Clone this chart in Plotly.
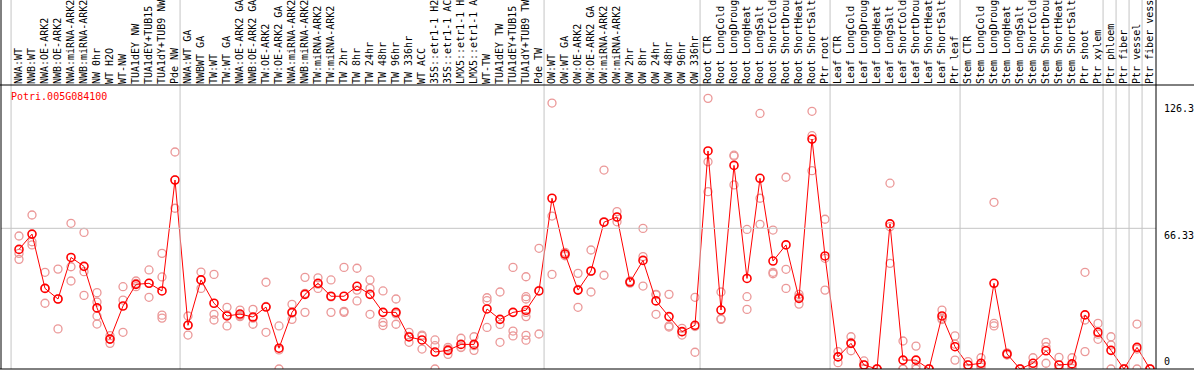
import plotly.graph_objects as go

categories = [
    "NWA:WT", "NWB:WT", "NWA:OE-ARK2", "NWB:OE-ARK2", "NWA:miRNA-ARK2", "NWB:miRNA-ARK2",
    "NW 0hr", "WT H2O", "WT-NW", "TUA1dEY NW", "TUA1dEY+TUB15 NW", "TUA1dY+TUB9 NW", "Pde NW",
    "NWA:WT GA", "NWBWT GA", "TW:WT", "TW:WT GA", "NWA:OE-ARK2 GA", "NWB:OE-ARK2 GA",
    "TW:OE-ARK2", "TW:OE-ARK2 GA", "NWA:miRNA-ARK2 GA", "NWB:miRNA-ARK2 GA", "TW:miRNA-ARK2",
    "TW:miRNA-ARK2 GA", "TW 2hr", "TW 8hr", "TW 24hr", "TW 48hr", "TW 96hr", "TW 336hr",
    "WT ACC", "35S::etr1-1 H2O", "35S::etr1-1 ACC", "LMX5::etr1-1 H2O", "LMX5::etr1-1 ACC",
    "WT-TW", "TUA1dEY TW", "TUA1dEY+TUB15 TW", "TUA1dY+TUB9 TW", "Pde TW",
    "OW:WT", "OW:WT GA", "OW:OE-ARK2", "OW:OE-ARK2 GA", "OW:miRNA-ARK2", "OW:miRNA-ARK2 GA",
    "OW 2hr", "OW 8hr", "OW 24hr", "OW 48hr", "OW 96hr", "OW 336hr",
    "Root CTR", "Root LongCold", "Root LongDrought", "Root LongHeat", "Root LongSalt",
    "Root ShortCold", "Root ShortDrought", "Root ShortHeat", "Root ShortSalt", "Ptr root",
    "Leaf CTR", "Leaf LongCold", "Leaf LongDrought", "Leaf LongHeat", "Leaf LongSalt",
    "Leaf ShortCold", "Leaf ShortDrought", "Leaf ShortHeat", "Leaf ShortSalt", "Ptr leaf",
    "Stem CTR", "Stem LongCold", "Stem LongDrought", "Stem LongHeat", "Stem LongSalt",
    "Stem ShortCold", "Stem ShortDrought", "Stem ShortHeat", "Stem ShortSalt", "Ptr shoot",
    "Ptr xylem", "Ptr phloem", "Ptr fiber", "Ptr vessel", "Ptr fiber vessel",
]

mean_values = [
    56.4, 63.6, 38.0, 33.0, 52.6, 48.4, 28.8, 14.1, 29.7, 39.9, 40.4, 36.8, 89.1,
    20.6, 42.0, 31.0, 25.0, 25.9, 24.5, 29.2, 9.8, 26.7, 35.2, 40.4, 34.3, 34.3, 39.0,
    35.2, 26.7, 26.7, 15.1, 13.7, 8.0, 8.8, 11.6, 11.6, 28.3, 23.4, 26.7, 27.7, 36.8,
    80.5, 54.2, 37.2, 46.2, 69.2, 71.7, 41.0, 51.2, 32.1, 24.7, 17.6, 20.6,
    102.8, 27.8, 96.0, 42.7, 89.9, 50.9, 58.5, 33.3, 108.4, 53.3,
    5.7, 12.1, 1.9, 0.0, 68.4, 4.2, 4.2, 0.0, 25.0, 10.5,
    1.9, 2.7, 40.4, 7.1, 0.0, 2.7, 8.6, 1.9, 2.4, 25.5,
    17.3, 8.8, 0.0, 10.2, 0.0,
]

replicates = [
    [62.7, 54.5, 51.7], [72.6, 60.0, 58.5], [45.6, 38.0, 31.0], [47.1, 33.0, 18.9],
    [68.7, 48.2, 41.5], [64.4, 45.9, 34.7], [36.0, 31.6, 25.0, 21.2], [15.7, 14.1, 12.1],
    [38.8, 32.5, 17.3], [41.5, 40.4, 38.8], [46.7, 40.4, 33.8], [54.5, 43.4, 25.4, 24.0],
    [102.3, 89.2, 75.8],
    [25.0, 20.8, 16.0], [45.7, 42.0, 38.0], [44.6, 25.8, 23.1], [29.1, 25.5, 20.3],
    [27.8, 25.3, 24.7], [28.1, 24.0, 21.1], [40.9, 29.5, 17.3], [20.3, 9.0, 0.0],
    [30.5, 26.3, 23.4], [43.2, 35.7, 26.7], [43.0, 40.0, 38.0], [42.0, 34.0, 26.7],
    [47.9, 27.2, 26.7], [47.5, 37.2, 32.1], [42.0, 38.0, 25.8], [36.8, 22.0, 20.5],
    [33.0, 26.0, 21.1], [17.3, 15.4, 12.6], [16.0, 15.5, 9.4], [13.7, 11.0, 0.0],
    [10.2, 9.3, 6.9], [14.5, 10.3, 10.1], [15.2, 11.0, 8.8], [33.6, 32.2, 19.6],
    [36.3, 21.0, 12.6], [47.9, 17.9, 15.6], [43.5, 34.1, 33.0, 26.7, 24.7, 15.9, 13.6],
    [56.9, 37.0, 16.5],
    [125.4, 72.1, 44.6], [55.0, 54.2, 53.4], [45.1, 37.5, 29.1], [56.1, 46.0, 36.3],
    [93.8, 69.5, 44.2], [74.2, 71.5, 69.4], [41.5, 41.0, 40.5], [66.3, 53.0, 39.1],
    [35.2, 35.0, 25.8], [35.2, 20.3, 19.8], [19.2, 17.6, 16.0], [33.8, 20.0, 7.9],
    [127.6, 97.7, 83.6], [36.3, 23.7, 23.4], [100.8, 100.4, 86.8], [65.8, 34.1, 28.1],
    [120.5, 80.5, 68.2], [65.5, 45.6, 44.9], [90.4, 47.0, 38.0], [35.2, 34.0, 30.6],
    [121.5, 110.0, 93.5], [70.6, 52.2, 37.2],
    [8.2, 5.8, 3.0], [15.2, 12.5, 8.6], [3.8, 1.9, 0.0], [0.0, 0.0, 0.0],
    [87.6, 67.1, 49.8], [13.2, 0.0, 0.0], [10.8, 1.4, 0.0], [0.0, 0.0, 0.0],
    [27.8, 23.9, 23.3], [15.6, 11.7, 4.2],
    [3.5, 1.9, 0.3], [5.3, 1.9, 0.9], [78.6, 21.5, 20.3], [7.6, 7.0, 6.6],
    [0.0, 0.0, 0.0], [5.3, 1.5, 1.3], [12.6, 10.5, 2.7], [5.5, 0.2, 0.0],
    [5.3, 1.5, 0.3], [45.6, 23.1, 8.2],
    [21.5, 16.4, 14.0], [15.2, 11.3, 0.0], [0.0, 0.0, 0.0], [21.2, 9.4, 0.0],
    [0.0, 0.0, 0.0],
]

# first category index of each group (separator drawn before it)
group_starts = [0, 13, 41, 53, 63, 73, 84, 85, 86, 87]
y_labels = [126.3, 66.33, 0]
y_label_text = ["126.3", "66.33", "0"]
grid_value = 66.33
title_text = "Potri.005G084100"

W, H = 1194, 370
ML, MR, MT, MB = 1, 38, 85, 1
PW = W - ML - MR
PH = H - MT - MB
X0 = -18 / 13.0
X1 = X0 + PW / 13.0
Y_TOP = 133.9

MONO = "DejaVu Sans Mono"

xs = list(range(len(categories)))
rep_x, rep_y = [], []
for i, reps in enumerate(replicates):
    for v in reps:
        rep_x.append(i)
        rep_y.append(v)

fig = go.Figure()
fig.add_trace(go.Scatter(
    x=rep_x, y=rep_y, mode="markers",
    marker=dict(symbol="circle-open", size=8, color="#EB9898", line=dict(width=1.3, color="#EB9898")),
    hoverinfo="skip",
))
fig.add_trace(go.Scatter(
    x=xs, y=mean_values, mode="lines+markers",
    line=dict(color="#FF0000", width=1),
    marker=dict(symbol="circle-open", size=8, color="#FF0000", line=dict(width=1.6, color="#FF0000")),
))

def px_to_paper_x(xi):
    return (xi - X0) / (X1 - X0)

shapes = []
top_paper = 1 + MT / PH
for g in group_starts:
    xp = px_to_paper_x(g - 0.61)
    shapes.append(dict(type="line", xref="paper", yref="paper", x0=xp, x1=xp, y0=0, y1=top_paper,
                       line=dict(color="#C4C4C4", width=1)))
# horizontal grid line
shapes.append(dict(type="line", xref="paper", yref="y", x0=0, x1=1, y0=grid_value, y1=grid_value,
                   line=dict(color="#C4C4C4", width=1)))
# frame lines
shapes.append(dict(type="line", xref="paper", yref="paper", x0=0, x1=0, y0=0, y1=top_paper,
                   line=dict(color="black", width=1)))
shapes.append(dict(type="line", xref="paper", yref="paper", x0=1, x1=1, y0=0, y1=top_paper,
                   line=dict(color="black", width=1)))
shapes.append(dict(type="line", xref="paper", yref="paper", x0=-ML / PW, x1=1 + MR / PW, y0=1, y1=1,
                   line=dict(color="black", width=1)))
shapes.append(dict(type="line", xref="paper", yref="paper", x0=-ML / PW, x1=1 + MR / PW, y0=0, y1=0,
                   line=dict(color="black", width=1)))

annotations = [dict(
    text=title_text, xref="paper", yref="paper", x=8 / PW, y=1 - 12 / PH,
    xanchor="left", yanchor="middle", showarrow=False,
    font=dict(family=MONO, size=10, color="#FF0000"),
)]
for v, t in zip(y_labels, y_label_text):
    annotations.append(dict(
        text=t, xref="paper", yref="y", x=(1162 - ML) / PW, y=v,
        xanchor="left", yanchor="bottom" if v == 0 else "top", showarrow=False,
        font=dict(family=MONO, size=10, color="black"),
    ))

fig.update_layout(
    width=W, height=H,
    margin=dict(l=ML, r=MR, t=MT, b=MB),
    paper_bgcolor="white", plot_bgcolor="white",
    showlegend=False,
    shapes=shapes,
    annotations=annotations,
    xaxis=dict(
        range=[X0, X1], side="top", tickmode="array", tickvals=xs, ticktext=categories,
        tickangle=-90, showgrid=False, zeroline=False, showline=False, ticks="",
        tickfont=dict(family=MONO, size=10, color="black"), automargin=False, fixedrange=True,
    ),
    yaxis=dict(
        range=[0, Y_TOP], showgrid=False, zeroline=False, showline=False,
        showticklabels=False, ticks="", automargin=False, fixedrange=True,
    ),
)

fig.write_html(
    "out.html",
    config={"displayModeBar": False},
    post_script="document.body.style.margin='0px';document.body.style.overflow='hidden';",
)
